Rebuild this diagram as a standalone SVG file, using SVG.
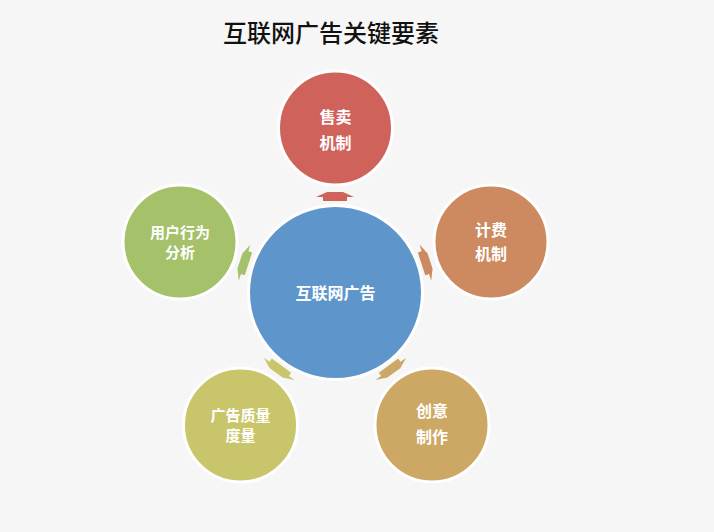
<svg xmlns="http://www.w3.org/2000/svg" width="714" height="532" viewBox="0 0 714 532">
<defs>
<style>
.c{stroke:#ffffff;stroke-width:3}
.t{font-family:"Noto Sans CJK SC","Liberation Sans",sans-serif;font-size:16px;font-weight:bold;fill:#ffffff;text-anchor:middle}
.t2{font-family:"Noto Sans CJK SC","Liberation Sans",sans-serif;font-size:15px;font-weight:bold;fill:#ffffff;text-anchor:middle}
.title{font-family:"Noto Sans CJK SC","Liberation Sans",sans-serif;font-size:24px;font-weight:500;fill:#111111;text-anchor:middle}
</style>
<polygon id="arw" points="-12,5 12,5 12,1 19,1 8,-4 -8,-4 -19,1 -12,1"/>
</defs>
<rect width="714" height="532" fill="#F6F6F6"/>
<text class="title" x="331" y="42">互联网广告关键要素</text>
<g id="connectors">
<use href="#arw" fill="#D0625C" transform="translate(335,292) rotate(0) translate(0,-96)"/>
<use href="#arw" fill="#CD8A60" transform="translate(335,292) rotate(72) translate(0,-96)"/>
<use href="#arw" fill="#CDA865" transform="translate(335,292) rotate(144) translate(0,-96)"/>
<use href="#arw" fill="#C9C56A" transform="translate(335,292) rotate(216) translate(0,-96)"/>
<use href="#arw" fill="#A5C16A" transform="translate(335,292) rotate(288) translate(0,-96)"/>
</g>
<g id="center">
<circle class="c" cx="335.5" cy="292.5" r="87" fill="#5E96CB"/>
<text class="t" x="335.5" y="299">互联网广告</text>
</g>
<g id="top">
<circle class="c" cx="335.5" cy="128" r="57" fill="#D0625C"/>
<text class="t" x="335.5" y="123">售卖</text>
<text class="t" x="335.5" y="149">机制</text>
</g>
<g id="right">
<circle class="c" cx="491" cy="242" r="57" fill="#CD8A60"/>
<text class="t" x="491" y="236">计费</text>
<text class="t" x="491" y="260">机制</text>
</g>
<g id="bottomright">
<circle class="c" cx="432" cy="425" r="57" fill="#CDA865"/>
<text class="t" x="432" y="417">创意</text>
<text class="t" x="432" y="443">制作</text>
</g>
<g id="bottomleft">
<circle class="c" cx="240.5" cy="425" r="57" fill="#C9C56A"/>
<text class="t2" x="240.5" y="421">广告质量</text>
<text class="t2" x="240.5" y="441">度量</text>
</g>
<g id="left">
<circle class="c" cx="180" cy="242" r="57" fill="#A5C16A"/>
<text class="t2" x="180" y="238">用户行为</text>
<text class="t2" x="180" y="258">分析</text>
</g>
</svg>
